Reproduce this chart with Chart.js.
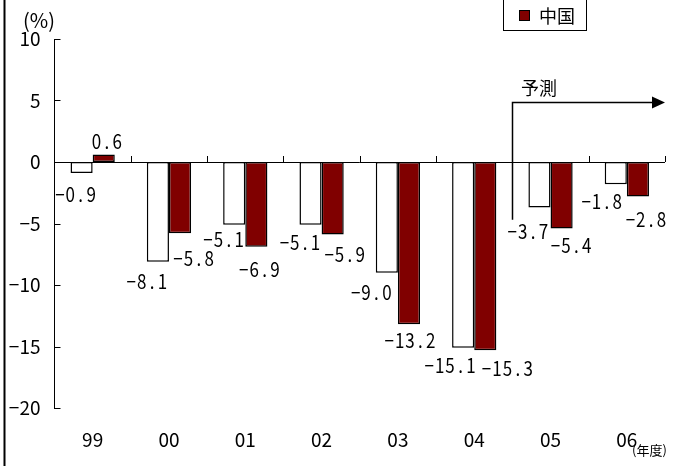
<!DOCTYPE html>
<html>
<head>
<meta charset="utf-8">
<script src="https://cdn.jsdelivr.net/npm/chart.js@4"></script>
<style>
  body { margin: 0; background: #fff; }
  canvas { display: block; }
</style>
</head>
<body>
<canvas id="growthChart" width="675" height="466"></canvas>
<script>
const years = ['99', '00', '01', '02', '03', '04', '05', '06'];
const otherValues = [-0.9, -8.1, -5.1, -5.1, -9.0, -15.1, -3.7, -1.8];
const chinaValues = [0.6, -5.8, -6.9, -5.9, -13.2, -15.3, -5.4, -2.8];
const yTicks = [10, 5, 0, -5, -10, -15, -20];

const FONT = "'Noto Sans CJK JP', 'Noto Sans', sans-serif";

// label nudges: white bars from their left/bottom corner, red bars from right/bottom
const otherLabelShift = [[5, 21], [0, 20], [0.5, 15], [0.5, 18], [-4.5, 20], [-2, 18], [-0.5, 24], [-3, 17]];
const chinaLabelShift = [[-8, -13], [2.5, 25], [-8, 23], [1, 20], [-10, 16], [11, 18], [-1.5, 17], [-3, 23]];

function fmt(v) {
    return v.toFixed(1).replace('-', '\u2212');
}

// fixed-pitch, slightly narrowed digits
function drawMono(ctx, text, cx, cy) {
    const adv = 10.4;
    let x = cx - adv * text.length / 2 + adv / 2;
    for (const ch of text) {
        ctx.save();
        ctx.translate(x, cy);
        ctx.scale(0.85, 1);
        ctx.fillText(ch, 0, 0);
        ctx.restore();
        x += adv;
    }
}

const decorations = {
    id: 'decorations',
    afterDatasetsDraw(chart) {
        const ctx = chart.ctx;
        const area = chart.chartArea;
        const xs = chart.scales.x;
        const ys = chart.scales.y;
        const y0 = ys.getPixelForValue(0);

        ctx.save();
        ctx.strokeStyle = '#000';
        ctx.lineWidth = 1;

        // zero line with category ticks pointing up
        ctx.beginPath();
        ctx.moveTo(area.left, Math.round(y0) + 0.5);
        ctx.lineTo(area.right, Math.round(y0) + 0.5);
        for (let i = 1; i <= years.length; i++) {
            const bx = Math.round(xs.getPixelForValue(i - 0.5)) + 0.5;
            ctx.moveTo(bx, y0);
            ctx.lineTo(bx, y0 - 6);
        }
        // value ticks inside the plot
        for (const v of yTicks) {
            const ty = Math.round(ys.getPixelForValue(v)) + 0.5;
            ctx.moveTo(area.left, ty);
            ctx.lineTo(area.left + 6, ty);
        }
        ctx.stroke();

        // forecast arrow
        const ax = Math.round(xs.getPixelForValue(5.5)) + 0.5;
        const atop = Math.round(ys.getPixelForValue(4.9)) + 0.5;
        ctx.lineWidth = 1.5;
        ctx.beginPath();
        ctx.moveTo(ax, ys.getPixelForValue(-4.7));
        ctx.lineTo(ax, atop);
        ctx.lineTo(area.right - 12, atop);
        ctx.stroke();
        ctx.fillStyle = '#000';
        ctx.beginPath();
        ctx.moveTo(area.right, atop);
        ctx.lineTo(area.right - 13, atop - 6);
        ctx.lineTo(area.right - 13, atop + 6);
        ctx.closePath();
        ctx.fill();

        ctx.font = '18px ' + FONT;
        ctx.textAlign = 'left';
        ctx.textBaseline = 'middle';
        ctx.fillText('予測', 521, 88);

        // value labels
        ctx.font = '20px ' + FONT;
        ctx.textAlign = 'center';
        const white = chart.getDatasetMeta(0).data;
        const red = chart.getDatasetMeta(1).data;
        white.forEach((bar, i) => {
            const [dx, dy] = otherLabelShift[i];
            drawMono(ctx, fmt(otherValues[i]), bar.x - bar.width / 2 + dx, bar.y + dy);
        });
        red.forEach((bar, i) => {
            const [dx, dy] = chinaLabelShift[i];
            drawMono(ctx, fmt(chinaValues[i]), bar.x + bar.width / 2 + dx, bar.y + dy);
        });

        // unit captions
        ctx.font = '20px ' + FONT;
        ctx.fillText('(%)', 39, 20);
        ctx.font = '13px ' + FONT;
        ctx.textAlign = 'left';
        ctx.fillText('(年度)', 632, 450);

        // legend
        ctx.lineWidth = 1;
        ctx.strokeRect(503.5, -1.5, 83, 32);
        ctx.fillStyle = '#800000';
        ctx.fillRect(519, 10, 11, 11);
        ctx.strokeRect(519.5, 10.5, 10, 10);
        ctx.fillStyle = '#000';
        ctx.font = '18px ' + FONT;
        ctx.fillText('中国', 539, 16);

        // frame line on the left edge
        ctx.lineWidth = 2;
        ctx.beginPath();
        ctx.moveTo(4.5, 0);
        ctx.lineTo(4.5, chart.height);
        ctx.stroke();
        ctx.restore();
    }
};

new Chart(document.getElementById('growthChart'), {
    type: 'bar',
    data: {
        labels: years,
        datasets: [{
            label: '',
            data: otherValues,
            backgroundColor: '#ffffff',
            borderColor: '#000000',
            borderWidth: 1.5,
            borderSkipped: false,
            categoryPercentage: 0.58,
            barPercentage: 1.0
        }, {
            label: '中国',
            data: chinaValues,
            backgroundColor: '#800000',
            borderColor: '#000000',
            borderWidth: 1.5,
            borderSkipped: false,
            categoryPercentage: 0.58,
            barPercentage: 1.0
        }]
    },
    options: {
        responsive: false,
        animation: false,
        layout: { padding: { top: 39, right: 10, left: 0, bottom: 0 } },
        plugins: {
            legend: { display: false },
            tooltip: { enabled: false }
        },
        scales: {
            x: {
                grid: { display: false, drawTicks: false },
                border: { display: false },
                ticks: {
                    color: '#000',
                    font: { family: FONT, size: 19 },
                    padding: 20,
                    maxRotation: 0
                },
                afterFit: s => { s.height = 58; }
            },
            y: {
                min: -20,
                max: 10,
                grid: { display: false, drawTicks: false },
                border: { display: true, color: '#000', width: 1 },
                afterBuildTicks: s => { s.ticks = yTicks.map(v => ({ value: v })); },
                ticks: {
                    color: '#000',
                    font: { family: FONT, size: 19 },
                    padding: 14,
                    callback: v => String(v).replace('-', '\u2212')
                },
                afterFit: s => { s.width = 54.5; }
            }
        }
    },
    plugins: [decorations]
});
</script>
</body>
</html>
